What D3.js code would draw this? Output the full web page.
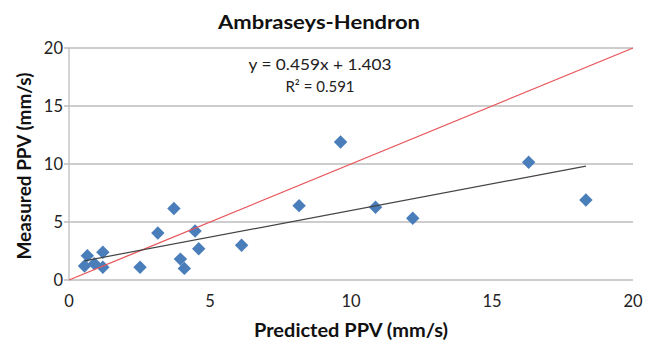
<!DOCTYPE html>
<html><head><meta charset="utf-8">
<script src="https://cdn.jsdelivr.net/npm/d3@7"></script>
<style>body{margin:0;background:#fff;}svg{display:block;}</style>
</head><body>
<script>
const title = "Ambraseys-Hendron";
const xLabel = "Predicted PPV (mm/s)";
const yLabel = "Measured PPV (mm/s)";
const predicted = [0.55,0.65,0.9,1.2,1.2,2.52,3.15,3.72,3.95,4.09,4.47,4.6,6.12,8.16,9.63,10.87,12.19,16.3,18.33];
const measured  = [1.2,2.1,1.4,2.4,1.1,1.1,4.05,6.17,1.8,1.0,4.22,2.7,3.0,6.41,11.9,6.27,5.32,10.15,6.9];
const xTicks = [0,5,10,15,20];
const yTicks = [0,5,10,15,20];
const slope = 0.459, intercept = 1.403;
const eqText = "y = 0.459x + 1.403";
const r2Text = "R² = 0.591";

const W=654,H=347;
const m={left:69,right:21,top:48,bottom:67};
const svg=d3.select("body").append("svg").attr("width",W).attr("height",H);
const font="Lato, 'Open Sans', sans-serif";
const x=d3.scaleLinear().domain([0,20]).range([m.left,W-m.right]);
const y=d3.scaleLinear().domain([0,20]).range([H-m.bottom,m.top]);

// gridlines
svg.append("g").selectAll("line").data(yTicks).join("line")
 .attr("x1",x(0)-5).attr("x2",x(20)).attr("y1",d=>y(d)).attr("y2",d=>y(d))
 .attr("stroke","#bdbdbd").attr("stroke-width",1.3);
svg.append("line").attr("x1",x(0)).attr("x2",x(0)).attr("y1",y(0)).attr("y2",y(20))
 .attr("stroke","#bdbdbd").attr("stroke-width",1.3);

// y tick labels
svg.append("g").selectAll("text").data(yTicks).join("text")
 .attr("x",x(0)-6).attr("y",d=>y(d)).attr("dy","0.36em").attr("text-anchor","end")
 .attr("font-family",font).attr("font-size",16.5).attr("fill","#222").text(d=>d);
// x tick labels
svg.append("g").selectAll("text").data(xTicks).join("text")
 .attr("x",d=>x(d)).attr("y",y(0)+27).attr("text-anchor","middle")
 .attr("font-family",font).attr("font-size",16.5).attr("fill","#222").text(d=>d);

// points
svg.append("g").selectAll("path").data(predicted.map((p,i)=>[p,measured[i]])).join("path")
 .attr("d",d3.symbol().type(d3.symbolDiamond2).size(115))
 .attr("transform",d=>`translate(${x(d[0])},${y(d[1])})`)
 .attr("fill","#4a7ebb");

// 1:1 red line
svg.append("line").attr("x1",x(0)).attr("y1",y(0)).attr("x2",x(20)).attr("y2",y(20))
 .attr("stroke","#e8565a").attr("stroke-width",1.3);
// trendline
const xmin=d3.min(predicted), xmax=d3.max(predicted);
svg.append("line").attr("x1",x(xmin)).attr("y1",y(slope*xmin+intercept))
 .attr("x2",x(xmax)).attr("y2",y(slope*xmax+intercept))
 .attr("stroke","#444").attr("stroke-width",1.2);

// texts
svg.append("text").attr("x",319).attr("y",29).attr("text-anchor","middle")
 .attr("font-family",font).attr("font-weight","bold").attr("font-size",19.5)
 .attr("textLength",202).attr("lengthAdjust","spacingAndGlyphs").attr("fill","#111").text(title);
svg.append("text").attr("x",320).attr("y",70).attr("text-anchor","middle")
 .attr("font-family",font).attr("font-size",15).attr("textLength",143).attr("lengthAdjust","spacingAndGlyphs")
 .attr("fill","#222").text(eqText);
svg.append("text").attr("x",320).attr("y",92).attr("text-anchor","middle")
 .attr("font-family",font).attr("font-size",15).attr("fill","#222").text(r2Text);
svg.append("text").attr("x",351).attr("y",337).attr("text-anchor","middle")
 .attr("font-family",font).attr("font-weight","bold").attr("font-size",18)
 .attr("textLength",194).attr("lengthAdjust","spacingAndGlyphs").attr("fill","#111").text(xLabel);
svg.append("text").attr("transform","translate(31,166) rotate(-90)").attr("text-anchor","middle")
 .attr("font-family",font).attr("font-weight","bold").attr("font-size",18)
 .attr("textLength",187).attr("lengthAdjust","spacingAndGlyphs").attr("fill","#111").text(yLabel);
</script>
</body></html>
